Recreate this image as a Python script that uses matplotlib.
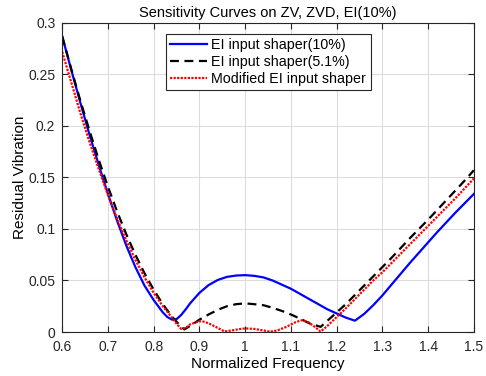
import matplotlib
matplotlib.use('Agg')
import matplotlib.pyplot as plt

plt.rcParams['font.family'] = ['Liberation Sans', 'DejaVu Sans']

# EI input shaper (10%)
blue_x = [0.60, 0.62, 0.64, 0.66, 0.68, 0.70, 0.72, 0.74, 0.76, 0.78, 0.80, 0.82,
          0.83, 0.84, 0.85, 0.86, 0.87, 0.88, 0.90, 0.92, 0.94, 0.96, 0.98, 1.00,
          1.02, 1.04, 1.06, 1.08, 1.10, 1.12, 1.14, 1.16, 1.18, 1.20, 1.22, 1.24,
          1.26, 1.28, 1.30, 1.32, 1.34, 1.36, 1.38, 1.40, 1.42, 1.44, 1.46, 1.48,
          1.50]
blue_y = [0.287, 0.254, 0.222, 0.191, 0.162, 0.134, 0.108, 0.084, 0.063, 0.045, 0.031, 0.019,
          0.0145, 0.012, 0.0125, 0.0165, 0.022, 0.028, 0.038, 0.0455, 0.0505, 0.0535, 0.0548, 0.0552,
          0.0545, 0.053, 0.050, 0.046, 0.042, 0.037, 0.032, 0.027, 0.022, 0.018, 0.014, 0.011,
          0.0175, 0.026, 0.0355, 0.046, 0.0565, 0.067, 0.077, 0.087, 0.097, 0.1065, 0.116, 0.125,
          0.134]

# EI input shaper (5.1%)
black_x = [0.60, 0.62, 0.64, 0.66, 0.68, 0.70, 0.72, 0.74, 0.76, 0.78, 0.80, 0.82,
           0.84, 0.86, 0.867, 0.88, 0.90, 0.92, 0.94, 0.96, 0.98, 1.00, 1.02, 1.04,
           1.06, 1.08, 1.10, 1.12, 1.14, 1.165, 1.18, 1.20, 1.22, 1.24, 1.26, 1.28,
           1.30, 1.32, 1.34, 1.36, 1.38, 1.40, 1.42, 1.44, 1.46, 1.48, 1.50]
black_y = [0.287, 0.255, 0.224, 0.195, 0.167, 0.141, 0.117, 0.095, 0.075, 0.057, 0.041, 0.027,
           0.015, 0.005, 0.0025, 0.006, 0.012, 0.017, 0.0215, 0.025, 0.027, 0.0278, 0.027, 0.026,
           0.0235, 0.0205, 0.017, 0.013, 0.0085, 0.005, 0.011, 0.019, 0.027, 0.036, 0.045, 0.054,
           0.063, 0.072, 0.0815, 0.091, 0.100, 0.109, 0.1185, 0.128, 0.1375, 0.147, 0.157]

# Modified EI input shaper
red_x = [0.60, 0.62, 0.64, 0.66, 0.68, 0.70, 0.72, 0.74, 0.76, 0.78, 0.80, 0.82,
         0.84, 0.85, 0.86, 0.87, 0.88, 0.90, 0.91, 0.92, 0.94, 0.955, 0.97, 0.99,
         1.00, 1.02, 1.04, 1.055, 1.07, 1.09, 1.11, 1.125, 1.14, 1.155, 1.165, 1.18,
         1.20, 1.22, 1.24, 1.26, 1.28, 1.30, 1.32, 1.34, 1.36, 1.38, 1.40, 1.42,
         1.44, 1.46, 1.48, 1.50]
red_y = [0.272, 0.242, 0.212, 0.184, 0.158, 0.133, 0.110, 0.089, 0.070, 0.053, 0.038, 0.025,
         0.014, 0.008, 0.003, 0.004, 0.0075, 0.0105, 0.010, 0.0085, 0.004, 0.0005, 0.0015, 0.003,
         0.0035, 0.003, 0.0015, 0.0003, 0.0015, 0.005, 0.0095, 0.0115, 0.009, 0.004, 0.0005, 0.006,
         0.0145, 0.023, 0.032, 0.041, 0.050, 0.058, 0.067, 0.076, 0.085, 0.094, 0.103, 0.112,
         0.121, 0.130, 0.1395, 0.149]

xticks = [0.6, 0.7, 0.8, 0.9, 1.0, 1.1, 1.2, 1.3, 1.4, 1.5]
xtick_labels = ['0.6', '0.7', '0.8', '0.9', '1', '1.1', '1.2', '1.3', '1.4', '1.5']
yticks = [0, 0.05, 0.1, 0.15, 0.2, 0.25, 0.3]
ytick_labels = ['0', '0.05', '0.1', '0.15', '0.2', '0.25', '0.3']

fig = plt.figure(figsize=(4.86, 3.76), dpi=100)
ax = fig.add_axes([0.128, 0.117, 0.847, 0.822])

ax.plot(blue_x, blue_y, color='blue', linewidth=1.6, label='EI input shaper(10%)')
ax.plot(black_x, black_y, color='black', linestyle=(0, (4, 2.5)), linewidth=1.6,
        label='EI input shaper(5.1%)')
ax.plot(red_x, red_y, color='red', linestyle=(0, (1, 0.6)), linewidth=1.6,
        label='Modified EI input shaper')

ax.set_xlim(0.6, 1.5)
ax.set_ylim(0, 0.3)
ax.set_xticks(xticks)
ax.set_xticklabels(xtick_labels)
ax.set_yticks(yticks)
ax.set_yticklabels(ytick_labels)
ax.tick_params(direction='in', length=4, labelsize=10, colors='#262626', top=True, right=True)
ax.tick_params(axis='x', pad=6)
ax.tick_params(axis='y', pad=5)
for s in ax.spines.values():
    s.set_color('#262626')
    s.set_linewidth(0.8)
ax.grid(True, color='#dcdcdc', linewidth=0.8)
ax.set_axisbelow(True)

ax.set_title('Sensitivity Curves on ZV, ZVD, EI(10%)', fontsize=10.5, pad=4)
ax.set_xlabel('Normalized Frequency', fontsize=11, labelpad=2)
ax.set_ylabel('Residual Vibration', fontsize=11, labelpad=1)

leg = ax.legend(loc='upper center', bbox_to_anchor=(0.5, 0.965), fontsize=10.3,
                fancybox=False, framealpha=1, edgecolor='#262626',
                handlelength=2.6, borderpad=0.3, labelspacing=0.2, handletextpad=0.3,
                borderaxespad=0)
leg.get_frame().set_linewidth(0.8)

fig.savefig('out.png', dpi=100)
